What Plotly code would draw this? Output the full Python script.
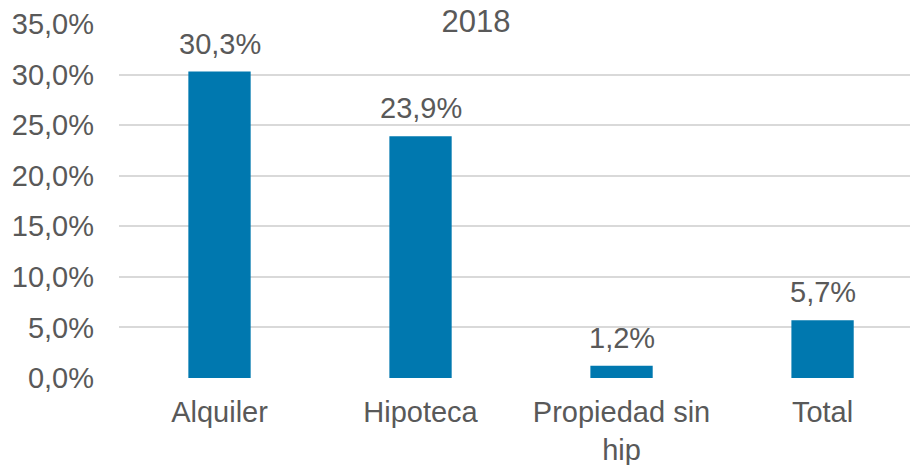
import plotly.graph_objects as go

# Data (percent)
categories = ["Alquiler", "Hipoteca", "Propiedad sin<br>hip", "Total"]
values = [30.3, 23.9, 1.2, 5.7]
value_labels = ["30,3%", "23,9%", "1,2%", "5,7%"]
y_ticks = [0, 5, 10, 15, 20, 25, 30, 35]
y_tick_labels = ["0,0%", "5,0%", "10,0%", "15,0%", "20,0%", "25,0%", "30,0%", "35,0%"]

bar_color = "#0078AF"
text_color = "#595959"
grid_color = "#D9D9D9"
font_family = "Liberation Sans, Arial, sans-serif"

fig = go.Figure()

fig.add_trace(
    go.Bar(
        x=categories,
        y=values,
        marker=dict(color=bar_color, line=dict(width=0)),
        width=0.31,
        hoverinfo="skip",
    )
)

# Value labels above the bars
for cat, val, lab in zip(categories, values, value_labels):
    fig.add_annotation(
        x=cat,
        y=val,
        text=lab,
        showarrow=False,
        yanchor="bottom",
        yshift=10,
        font=dict(size=29, color=text_color, family=font_family),
    )

fig.update_layout(
    width=910,
    height=465,
    margin=dict(l=119, r=0, t=24, b=87),
    plot_bgcolor="white",
    paper_bgcolor="white",
    showlegend=False,
    font=dict(family=font_family, size=29, color=text_color),
    title=dict(
        text="2018",
        x=476 / 910,
        xref="container",
        xanchor="center",
        y=1 - 21 / 465,
        yref="container",
        yanchor="middle",
        font=dict(size=31, color=text_color, family=font_family),
    ),
    xaxis=dict(
        type="category",
        range=[-0.5, 3.435],
        automargin=False,
        showgrid=False,
        showline=False,
        ticks="",
        ticklabelstandoff=14,
        tickfont=dict(size=29, color=text_color),
    ),
    yaxis=dict(
        range=[0, 35],
        automargin=False,
        tickvals=y_ticks,
        ticktext=y_tick_labels,
        showgrid=True,
        gridcolor=grid_color,
        gridwidth=1.5,
        zeroline=False,
        showline=False,
        ticks="",
        ticklabelstandoff=24,
        tickfont=dict(size=29, color=text_color),
    ),
)

# drop the browser's default 8px body margin so the figure sits at the corner
fig.write_html(
    "out.html",
    config={"displayModeBar": False},
    post_script="document.body.style.margin='0';",
)
